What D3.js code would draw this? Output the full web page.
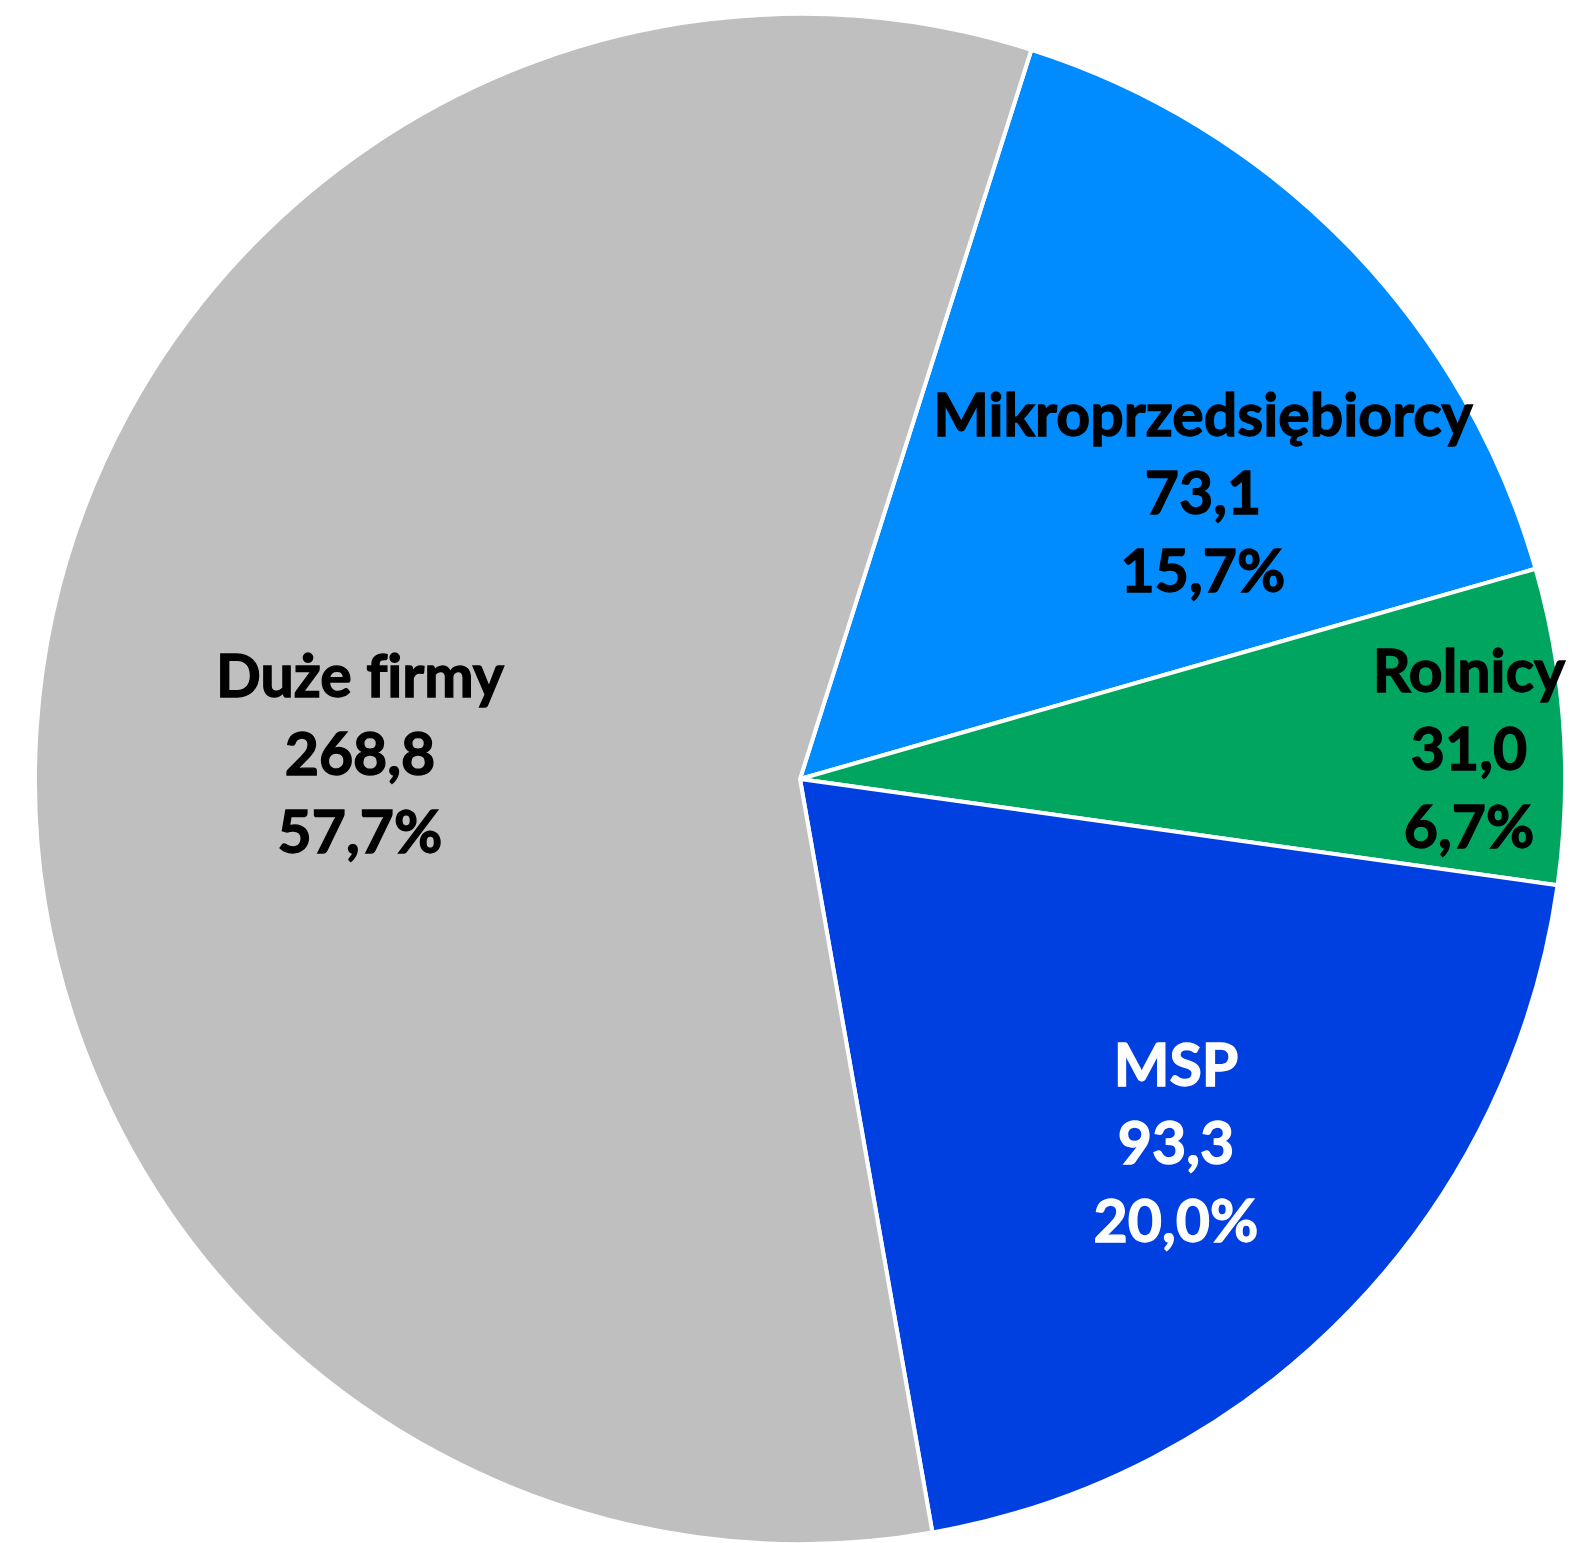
<!DOCTYPE html>
<html>
<head>
<meta charset="utf-8">
<script src="https://cdn.jsdelivr.net/npm/d3@7"></script>
<style>
  html, body { margin: 0; padding: 0; background: #fff; }
  svg { display: block; }
  text { font-family: Lato, "Open Sans", sans-serif; font-weight: bold; font-variant-ligatures: none; }
</style>
</head>
<body>
<svg id="chart" width="1573" height="1543"></svg>
<script>
// data (clockwise from the first white divider)
const names   = ["Mikroprzedsiębiorcy", "Rolnicy", "MSP", "Duże firmy"];
const values  = [73.1, 31.0, 93.3, 268.8];
const shares  = [15.7, 6.7, 20.0, 57.7];

const colors     = ["#008bff", "#00a55f", "#0040e0", "#bfbfbf"];
const textColors = ["#000", "#000", "#fff", "#000"];

// label centres (middle line), as placed in the original
const labelAt = [[1203, 514], [1469, 770], [1176, 1164], [360, 775]];

const svg = d3.select("#chart"),
    cx = 800, cy = 779, r = 765;

const fmt = d3.formatLocale({decimal: ",", thousands: " ", grouping: [3], currency: ["", " zł"]});
const f1 = fmt.format(".1f");

const start = 17.6 * Math.PI / 180;
const pie = d3.pie()
    .sort(null)
    .value(function(d) { return d; })
    .startAngle(start)
    .endAngle(start + 2 * Math.PI);

const arc = d3.arc().innerRadius(0).outerRadius(r);

const g = svg.append("g").attr("transform", "translate(" + cx + "," + cy + ")");

g.selectAll("path")
  .data(pie(values))
  .enter().append("path")
    .attr("d", arc)
    .attr("fill", function(d, i) { return colors[i]; })
    .attr("stroke", "#fff")
    .attr("stroke-width", 4)
    .attr("stroke-linejoin", "round");

const lineH = 78;

names.forEach(function(n, i) {
  let t = svg.append("text")
      .attr("text-anchor", "middle")
      .attr("fill", textColors[i])
      .attr("stroke", textColors[i])
      .attr("stroke-width", 1.3)
      .attr("font-size", 59);
  let lines = [n, f1(values[i]), f1(shares[i]) + "%"];
  lines.forEach(function(s, k) {
    t.append("tspan")
      .attr("x", labelAt[i][0])
      .attr("y", labelAt[i][1] + (k - 1) * lineH)
      .text(s);
  });
});
</script>
</body>
</html>
